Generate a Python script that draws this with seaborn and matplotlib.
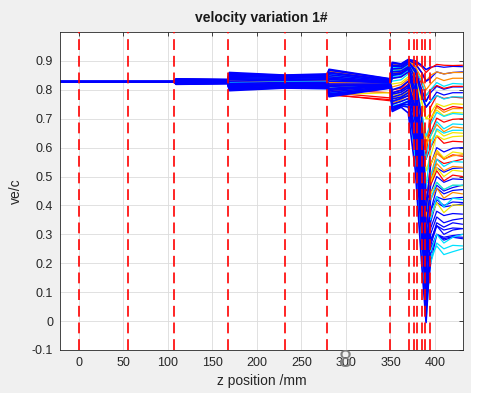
import pandas as pd
import matplotlib.pyplot as plt
import seaborn as sns

# z positions (mm) where each trajectory is sampled
z_knots = [-21, 0, 55, 107, 109, 167, 169, 231, 279, 281, 350, 352,
           362, 370, 378, 385, 390, 395, 402, 410, 420, 431]
z_split = 395  # end of the last gap; the exit spread is drawn in a second pass

# common entry velocity up to the first gap
v_entry = [0.828, 0.828, 0.828, 0.828]

# gap positions (red dashed markers)
gap_z = [0, 55, 107, 167, 231, 279, 350, 371, 376, 380, 385, 389, 394]

# ve/c per trajectory after the first gap, grouped by colour
red_lines = [
    [0.830, 0.829, 0.845, 0.838, 0.840, 0.860, 0.830, 0.885, 0.888, 0.900, 0.895, 0.880, 0.860, 0.875, 0.888, 0.885, 0.884, 0.885],
    [0.822, 0.824, 0.800, 0.808, 0.806, 0.785, 0.762, 0.760, 0.770, 0.780, 0.720, 0.600, 0.560, 0.740, 0.780, 0.770, 0.775, 0.772],
    [0.826, 0.826, 0.810, 0.812, 0.810, 0.790, 0.772, 0.790, 0.800, 0.820, 0.750, 0.640, 0.600, 0.690, 0.745, 0.730, 0.742, 0.738],
    [0.834, 0.832, 0.850, 0.845, 0.846, 0.820, 0.818, 0.860, 0.862, 0.870, 0.820, 0.700, 0.560, 0.600, 0.640, 0.615, 0.622, 0.620],
    [0.825, 0.827, 0.815, 0.820, 0.818, 0.800, 0.790, 0.800, 0.805, 0.830, 0.760, 0.600, 0.450, 0.470, 0.520, 0.485, 0.505, 0.500],
    [0.835, 0.834, 0.852, 0.846, 0.848, 0.862, 0.832, 0.882, 0.884, 0.898, 0.880, 0.820, 0.780, 0.800, 0.815, 0.805, 0.812, 0.812],
    [0.823, 0.824, 0.802, 0.809, 0.807, 0.782, 0.766, 0.770, 0.778, 0.800, 0.720, 0.540, 0.400, 0.540, 0.590, 0.560, 0.575, 0.570],
    [0.833, 0.832, 0.845, 0.843, 0.845, 0.848, 0.830, 0.870, 0.872, 0.888, 0.830, 0.700, 0.620, 0.650, 0.702, 0.688, 0.698, 0.700],
    [0.830, 0.830, 0.836, 0.837, 0.839, 0.846, 0.827, 0.858, 0.860, 0.878, 0.800, 0.600, 0.340, 0.480, 0.560, 0.545, 0.552, 0.560],
]
orange_lines = [
    [0.836, 0.834, 0.855, 0.848, 0.850, 0.865, 0.834, 0.880, 0.884, 0.900, 0.890, 0.860, 0.830, 0.850, 0.862, 0.855, 0.860, 0.860],
    [0.828, 0.828, 0.830, 0.830, 0.832, 0.840, 0.822, 0.840, 0.845, 0.860, 0.800, 0.700, 0.610, 0.640, 0.680, 0.655, 0.672, 0.668],
    [0.821, 0.823, 0.805, 0.810, 0.808, 0.790, 0.812, 0.760, 0.770, 0.790, 0.700, 0.560, 0.400, 0.420, 0.460, 0.425, 0.445, 0.440],
    [0.830, 0.830, 0.834, 0.835, 0.836, 0.836, 0.824, 0.850, 0.855, 0.872, 0.820, 0.720, 0.600, 0.700, 0.740, 0.722, 0.735, 0.735],
    [0.825, 0.826, 0.811, 0.815, 0.813, 0.795, 0.811, 0.755, 0.765, 0.782, 0.690, 0.500, 0.360, 0.480, 0.545, 0.520, 0.535, 0.532],
    [0.837, 0.835, 0.857, 0.849, 0.853, 0.866, 0.836, 0.890, 0.886, 0.902, 0.880, 0.840, 0.800, 0.820, 0.842, 0.832, 0.840, 0.840],
    [0.829, 0.830, 0.827, 0.830, 0.831, 0.826, 0.822, 0.810, 0.818, 0.838, 0.760, 0.580, 0.420, 0.500, 0.580, 0.560, 0.572, 0.575],
]
yellow_lines = [
    [0.832, 0.830, 0.840, 0.836, 0.838, 0.850, 0.826, 0.870, 0.872, 0.890, 0.860, 0.760, 0.700, 0.700, 0.730, 0.710, 0.722, 0.720],
    [0.824, 0.825, 0.803, 0.807, 0.805, 0.783, 0.790, 0.780, 0.790, 0.810, 0.740, 0.620, 0.520, 0.540, 0.590, 0.565, 0.585, 0.580],
    [0.829, 0.830, 0.835, 0.833, 0.834, 0.830, 0.826, 0.820, 0.825, 0.845, 0.780, 0.640, 0.480, 0.480, 0.530, 0.500, 0.522, 0.518],
    [0.827, 0.827, 0.820, 0.822, 0.822, 0.810, 0.815, 0.750, 0.760, 0.770, 0.680, 0.500, 0.330, 0.360, 0.410, 0.375, 0.402, 0.400],
    [0.833, 0.832, 0.844, 0.840, 0.842, 0.852, 0.829, 0.866, 0.868, 0.885, 0.830, 0.720, 0.640, 0.620, 0.660, 0.640, 0.652, 0.650],
    [0.826, 0.826, 0.813, 0.815, 0.814, 0.800, 0.812, 0.770, 0.778, 0.795, 0.710, 0.540, 0.400, 0.440, 0.480, 0.455, 0.470, 0.468],
    [0.834, 0.833, 0.849, 0.845, 0.847, 0.854, 0.832, 0.878, 0.878, 0.892, 0.850, 0.760, 0.700, 0.720, 0.752, 0.742, 0.752, 0.750],
    [0.831, 0.831, 0.840, 0.840, 0.842, 0.842, 0.828, 0.860, 0.864, 0.882, 0.810, 0.660, 0.520, 0.570, 0.642, 0.628, 0.638, 0.640],
]
cyan_lines = [
    [0.833, 0.831, 0.848, 0.842, 0.844, 0.855, 0.828, 0.870, 0.875, 0.895, 0.870, 0.830, 0.780, 0.800, 0.825, 0.812, 0.822, 0.820],
    [0.823, 0.825, 0.808, 0.812, 0.810, 0.790, 0.808, 0.735, 0.745, 0.760, 0.720, 0.620, 0.560, 0.640, 0.690, 0.665, 0.682, 0.680],
    [0.835, 0.833, 0.852, 0.846, 0.848, 0.845, 0.820, 0.850, 0.855, 0.870, 0.800, 0.640, 0.480, 0.500, 0.560, 0.535, 0.552, 0.550],
    [0.826, 0.826, 0.812, 0.816, 0.815, 0.805, 0.816, 0.760, 0.770, 0.790, 0.650, 0.420, 0.300, 0.350, 0.430, 0.395, 0.425, 0.420],
    [0.830, 0.829, 0.825, 0.828, 0.828, 0.815, 0.812, 0.745, 0.750, 0.760, 0.600, 0.330, 0.080, 0.240, 0.300, 0.270, 0.290, 0.300],
    [0.822, 0.824, 0.800, 0.806, 0.804, 0.778, 0.810, 0.730, 0.740, 0.750, 0.560, 0.250, 0.000, 0.220, 0.260, 0.230, 0.240, 0.250],
    [0.831, 0.830, 0.838, 0.838, 0.840, 0.835, 0.825, 0.830, 0.835, 0.855, 0.780, 0.560, 0.380, 0.420, 0.480, 0.455, 0.470, 0.470],
    [0.834, 0.832, 0.850, 0.844, 0.846, 0.858, 0.831, 0.876, 0.878, 0.892, 0.860, 0.800, 0.740, 0.760, 0.780, 0.768, 0.776, 0.775],
    [0.824, 0.825, 0.806, 0.811, 0.809, 0.788, 0.809, 0.742, 0.752, 0.762, 0.620, 0.300, 0.050, 0.200, 0.270, 0.250, 0.262, 0.260],
    [0.832, 0.832, 0.843, 0.841, 0.843, 0.850, 0.829, 0.865, 0.868, 0.885, 0.840, 0.720, 0.640, 0.680, 0.722, 0.708, 0.718, 0.715],
    [0.833, 0.833, 0.846, 0.839, 0.842, 0.838, 0.826, 0.845, 0.850, 0.868, 0.790, 0.620, 0.460, 0.600, 0.665, 0.650, 0.660, 0.660],
]
blue_lines = [
    [0.838, 0.836, 0.860, 0.851, 0.855, 0.871, 0.838, 0.895, 0.890, 0.905, 0.900, 0.885, 0.870, 0.878, 0.882, 0.878, 0.881, 0.880],
    [0.819, 0.821, 0.797, 0.806, 0.804, 0.776, 0.806, 0.725, 0.740, 0.720, 0.520, 0.200, -0.005, 0.260, 0.330, 0.300, 0.315, 0.320],
    [0.820, 0.822, 0.800, 0.808, 0.806, 0.780, 0.807, 0.730, 0.745, 0.740, 0.600, 0.300, 0.100, 0.300, 0.360, 0.340, 0.350, 0.355],
    [0.836, 0.834, 0.853, 0.847, 0.850, 0.860, 0.834, 0.885, 0.882, 0.898, 0.860, 0.780, 0.740, 0.760, 0.792, 0.782, 0.790, 0.790],
    [0.821, 0.823, 0.803, 0.810, 0.808, 0.786, 0.809, 0.740, 0.750, 0.760, 0.640, 0.380, 0.160, 0.360, 0.410, 0.395, 0.400, 0.405],
    [0.823, 0.824, 0.807, 0.812, 0.811, 0.792, 0.811, 0.750, 0.760, 0.770, 0.660, 0.420, 0.220, 0.420, 0.470, 0.450, 0.462, 0.470],
    [0.824, 0.825, 0.811, 0.815, 0.814, 0.798, 0.813, 0.760, 0.770, 0.780, 0.700, 0.480, 0.300, 0.470, 0.530, 0.515, 0.528, 0.530],
    [0.826, 0.827, 0.816, 0.818, 0.818, 0.805, 0.816, 0.775, 0.784, 0.800, 0.720, 0.520, 0.380, 0.540, 0.600, 0.585, 0.598, 0.600],
    [0.829, 0.829, 0.830, 0.833, 0.835, 0.836, 0.824, 0.850, 0.855, 0.872, 0.780, 0.560, 0.260, 0.230, 0.300, 0.285, 0.292, 0.290],
    [0.828, 0.828, 0.822, 0.825, 0.826, 0.820, 0.820, 0.800, 0.810, 0.830, 0.700, 0.420, 0.040, 0.270, 0.340, 0.325, 0.340, 0.335],
    [0.825, 0.826, 0.814, 0.817, 0.816, 0.802, 0.814, 0.768, 0.775, 0.790, 0.690, 0.460, 0.240, 0.380, 0.460, 0.440, 0.452, 0.455],
    [0.827, 0.828, 0.819, 0.821, 0.821, 0.812, 0.818, 0.790, 0.798, 0.815, 0.740, 0.560, 0.300, 0.320, 0.380, 0.365, 0.372, 0.370],
    [0.835, 0.834, 0.851, 0.846, 0.849, 0.858, 0.833, 0.882, 0.880, 0.896, 0.870, 0.800, 0.760, 0.790, 0.812, 0.802, 0.810, 0.810],
    [0.822, 0.823, 0.805, 0.809, 0.807, 0.783, 0.808, 0.735, 0.748, 0.750, 0.620, 0.340, 0.060, 0.200, 0.300, 0.280, 0.290, 0.285],
    [0.826, 0.827, 0.818, 0.819, 0.820, 0.815, 0.817, 0.785, 0.792, 0.808, 0.730, 0.500, 0.200, 0.340, 0.420, 0.400, 0.412, 0.410],
    [0.837, 0.835, 0.856, 0.850, 0.852, 0.868, 0.837, 0.893, 0.888, 0.903, 0.890, 0.860, 0.830, 0.840, 0.862, 0.855, 0.860, 0.862],
    [0.832, 0.831, 0.842, 0.840, 0.842, 0.845, 0.828, 0.862, 0.865, 0.880, 0.820, 0.640, 0.300, 0.280, 0.330, 0.315, 0.322, 0.320],
    [0.834, 0.833, 0.847, 0.843, 0.845, 0.852, 0.830, 0.872, 0.874, 0.890, 0.840, 0.700, 0.420, 0.440, 0.500, 0.480, 0.492, 0.490],
    [0.830, 0.830, 0.836, 0.836, 0.838, 0.840, 0.826, 0.855, 0.858, 0.875, 0.800, 0.600, 0.120, 0.250, 0.300, 0.290, 0.296, 0.300],
    [0.831, 0.832, 0.839, 0.834, 0.836, 0.830, 0.825, 0.840, 0.845, 0.862, 0.760, 0.540, 0.260, 0.380, 0.430, 0.420, 0.425, 0.428],
]

groups = [('red', red_lines, '#ff0000'),
          ('orange', orange_lines, '#ff8c00'),
          ('yellow', yellow_lines, '#f2e600'),
          ('cyan', cyan_lines, '#00e1ff'),
          ('blue', blue_lines, '#0000ff')]

rows = []
palette = {}
order = []
for name, lines, color in groups:
    for i, vals in enumerate(lines):
        lid = f'{name}{i}'
        palette[lid] = color
        order.append(lid)
        for z, v in zip(z_knots, v_entry + vals):
            rows.append({'z': z, 'v': v, 'line': lid, 'blue': name == 'blue'})
df = pd.DataFrame(rows)

blue_order = [l for l in order if l.startswith('blue')]
other_order = [l for l in order if not l.startswith('blue')]

sns.set_theme(style='white')
plt.rcParams['font.family'] = ['Liberation Sans', 'DejaVu Sans']

fig = plt.figure(figsize=(4.87, 3.97), dpi=100, facecolor='#f0f0f0')
ax = fig.add_axes([60 / 487, 47 / 397, 403 / 487, 318 / 397])
ax.set_facecolor('white')

inside = df[df['z'] <= z_split]
exit_ = df[df['z'] >= z_split]
common = dict(x='z', y='v', hue='line', palette=palette, estimator=None,
              sort=False, legend=False, ax=ax)

# through the cavities the blue trajectories cover the others
sns.lineplot(data=inside[~inside['blue']], hue_order=other_order, linewidth=0.9, **common)
sns.lineplot(data=inside[inside['blue']], hue_order=blue_order, linewidth=1.2, **common)
# in the exit spread the colours are drawn last
sns.lineplot(data=exit_[exit_['blue']], hue_order=blue_order, linewidth=0.9, **common)
sns.lineplot(data=exit_[~exit_['blue']], hue_order=other_order, linewidth=0.9, **common)

for z in gap_z:
    ax.axvline(z, color='#ff0000', ls=(0, (6.5, 3.5)), lw=1.2, zorder=5)

ax.set_xlim(-21.3, 431.5)
ax.set_ylim(-0.1, 1.0)
ax.set_xticks(range(0, 401, 50))
yt = [-0.1, 0, 0.1, 0.2, 0.3, 0.4, 0.5, 0.6, 0.7, 0.8, 0.9]
ax.set_yticks(yt)
ax.set_yticklabels(['-0.1', '0', '0.1', '0.2', '0.3', '0.4', '0.5', '0.6', '0.7', '0.8', '0.9'])
ax.grid(True, color='#dcdcdc', lw=0.6)
ax.set_axisbelow(True)
ax.tick_params(direction='in', top=True, right=True, length=3, width=0.6,
               colors='#262626', labelsize=9, pad=5)
for s in ax.spines.values():
    s.set_color('#262626')
    s.set_linewidth(0.6)

ax.set_title('velocity variation 1#', fontsize=10, fontweight='bold', color='#1a1a1a', pad=7)
ax.set_xlabel('z position /mm', fontsize=10, color='#262626', labelpad=4)
ax.set_ylabel('ve/c', fontsize=10, color='#262626', labelpad=6)

# cursor glyph drawn over the 300 tick label
fig.text(346 / 487, 1 - 361 / 397, '8', fontsize=17, color='#808080', ha='center', va='center')

# white margins at the right and bottom edges
fig.add_artist(plt.Rectangle((471 / 487, 0), 16 / 487, 1, transform=fig.transFigure,
                             facecolor='white', edgecolor='none'))
fig.add_artist(plt.Rectangle((0, 0), 1, 4 / 397, transform=fig.transFigure,
                             facecolor='white', edgecolor='none'))

fig.savefig('out.png', dpi=100, facecolor=fig.get_facecolor())
